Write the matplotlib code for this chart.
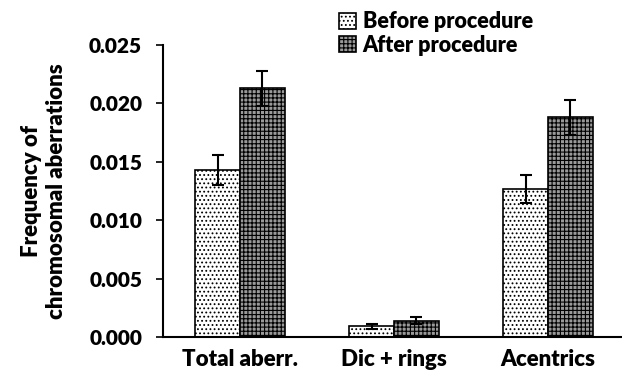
import matplotlib
matplotlib.use("Agg")
import matplotlib.pyplot as plt
import numpy as np

categories = ["Total aberr.", "Dic + rings", "Acentrics"]
before = [0.0143, 0.0009, 0.0127]
before_err = [0.0013, 0.0002, 0.0012]
after = [0.0213, 0.0014, 0.0188]
after_err = [0.0015, 0.0003, 0.0015]
series_labels = ["Before procedure", "After procedure"]

plt.rcParams['font.family'] = ['Lato', 'DejaVu Sans']
plt.rcParams['font.weight'] = 'heavy'
plt.rcParams['hatch.linewidth'] = 0.8

fig = plt.figure(figsize=(6.22, 3.78), dpi=100)
ax = fig.add_axes([163/622, 41/378, 462/622, 292/378])

x = np.arange(len(categories))
w = 0.29
b1 = ax.bar(x - w/2, before, w, yerr=before_err, facecolor='white', edgecolor='black',
            hatch='....', linewidth=1.2, capsize=4, error_kw=dict(elinewidth=1.5, capthick=1.5, ecolor='black'),
            label=series_labels[0])
b2 = ax.bar(x + w/2, after, w, yerr=after_err, facecolor='#9a9a9a', edgecolor='black',
            hatch='++++', linewidth=1.2, capsize=4, error_kw=dict(elinewidth=1.5, capthick=1.5, ecolor='black'),
            label=series_labels[1])

ax.set_xlim(-0.5, 2.5)
ax.set_ylim(0, 0.025)
ticks = [0, 0.005, 0.010, 0.015, 0.020, 0.025]
ax.set_yticks(ticks)
ax.set_yticklabels([f"{v:.3f}" for v in ticks], fontsize=15, fontweight='heavy')
ax.set_xticks(x)
ax.set_xticklabels(categories, fontsize=16, fontweight='heavy')
ax.tick_params(axis='x', length=0, pad=9)
ax.tick_params(axis='y', length=5, width=1.2, pad=10)
for s in ['top', 'right']:
    ax.spines[s].set_visible(False)
for s in ['left', 'bottom']:
    ax.spines[s].set_linewidth(1.5)

ax.set_ylabel("Frequency of\nchromosomal aberrations", fontsize=16, fontweight='heavy',
              labelpad=16, linespacing=1.25)

leg = fig.legend(loc='upper left', bbox_to_anchor=(326/622, 1.004), frameon=False,
                 handlelength=0.8, handleheight=0.8, handletextpad=0.3,
                 labelspacing=0.1, borderaxespad=0.2, prop={'weight': 'heavy', 'size': 15.5})

fig.savefig("out.png", dpi=100)
